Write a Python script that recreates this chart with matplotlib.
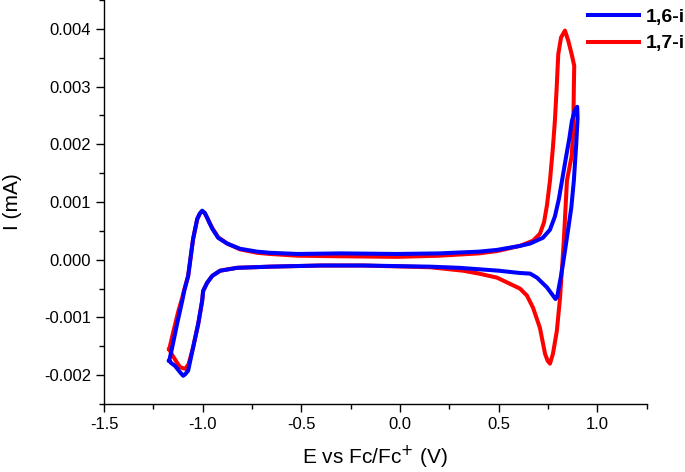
import matplotlib
matplotlib.use('Agg')
import matplotlib.pyplot as plt
from matplotlib.ticker import MultipleLocator, FormatStrFormatter

plt.rcParams['font.family'] = ['Liberation Sans', 'DejaVu Sans']
plt.rcParams['axes.unicode_minus'] = False

# 1,6-i loop (E in V, I in mA), starting at the left vertex
E_16 = [-1.170, -1.155, -1.130, -1.104, -1.094, -1.074, -1.049, -1.028, -1.015, -1.003,
        -0.990, -0.978, -0.965, -0.952, -0.922, -0.876, -0.811, -0.724, -0.659, -0.520,
        -0.300, -0.015, 0.200, 0.400, 0.491, 0.608, 0.659, 0.724, 0.760, 0.785,
        0.805, 0.821, 0.840, 0.858, 0.871, 0.885, 0.898,
        0.900, 0.893, 0.881, 0.868, 0.851, 0.838, 0.826, 0.815, 0.805, 0.797,
        0.788, 0.775, 0.745, 0.694, 0.659, 0.608, 0.500, 0.300, 0.152, -0.187,
        -0.400, -0.659, -0.826, -0.912, -0.952, -0.978, -0.998, -1.003, -1.023, -1.049,
        -1.074, -1.088, -1.099, -1.115, -1.140, -1.160, -1.170]
I_16 = [-0.00175, -0.00152, -0.00111, -0.00071, -0.00054, -0.00028, 0.00036, 0.00071, 0.00080, 0.00085,
        0.00081, 0.00073, 0.00063, 0.00054, 0.00038, 0.00028, 0.00019, 0.00014, 0.00012, 0.00010,
        0.00011, 0.00010, 0.00011, 0.00014, 0.00017, 0.00024, 0.00028, 0.00038, 0.00052, 0.00075,
        0.00105, 0.00137, 0.00175, 0.00210, 0.00240, 0.00258, 0.00265,
        0.00245, 0.00200, 0.00137, 0.00090, 0.00050, 0.00020, -0.00007, -0.00030, -0.00048, -0.00064,
        -0.00068, -0.00062, -0.00048, -0.00031, -0.00024, -0.00023, -0.00019, -0.00014, -0.00012, -0.00010,
        -0.00010, -0.00012, -0.00014, -0.00019, -0.00028, -0.00040, -0.00054, -0.00071, -0.00111, -0.00152,
        -0.00192, -0.00198, -0.00201, -0.00195, -0.00184, -0.00179, -0.00175]

# 1,7-i loop
E_17 = [-1.170, -1.148, -1.123, -1.104, -1.094, -1.074, -1.049, -1.028, -1.015, -1.003,
        -0.990, -0.978, -0.965, -0.952, -0.922, -0.876, -0.811, -0.724, -0.659, -0.520,
        -0.300, -0.015, 0.200, 0.400, 0.491, 0.608, 0.674, 0.709, 0.730, 0.745,
        0.760, 0.775, 0.785, 0.794, 0.802, 0.816, 0.836, 0.853, 0.870, 0.883,
        0.881, 0.878, 0.870, 0.846, 0.831, 0.822, 0.811, 0.795, 0.775, 0.760,
        0.748, 0.735, 0.709, 0.674, 0.643, 0.608, 0.491, 0.400, 0.319, 0.152,
        -0.187, -0.400, -0.659, -0.826, -0.912, -0.952, -0.978, -0.998, -1.003, -1.023,
        -1.049, -1.072, -1.089, -1.115, -1.131, -1.155, -1.170]
I_17 = [-0.00155, -0.00123, -0.00088, -0.00066, -0.00052, -0.00028, 0.00036, 0.00070, 0.00080, 0.00084,
        0.00081, 0.00073, 0.00064, 0.00055, 0.00039, 0.00028, 0.00018, 0.00012, 0.00010, 0.00007,
        0.00006, 0.00005, 0.00007, 0.00011, 0.00015, 0.00024, 0.00033, 0.00045, 0.00065, 0.00095,
        0.00137, 0.00195, 0.00241, 0.00298, 0.00356, 0.00385, 0.00397, 0.00379, 0.00356, 0.00336,
        0.00298, 0.00223, 0.00180, 0.00137, 0.00038, -0.00010, -0.00066, -0.00123, -0.00163, -0.00180,
        -0.00175, -0.00163, -0.00118, -0.00083, -0.00062, -0.00050, -0.00031, -0.00024, -0.00019, -0.00013,
        -0.00010, -0.00010, -0.00012, -0.00014, -0.00019, -0.00028, -0.00040, -0.00054, -0.00071, -0.00111,
        -0.00152, -0.00181, -0.00189, -0.00186, -0.00178, -0.00165, -0.00155]

fig = plt.figure(figsize=(6.85, 4.72), dpi=100)
ax = fig.add_axes([0.152, 0.144, 0.792, 0.856])

l17, = ax.plot(E_17, I_17, color='#ff0000', lw=2.9, label='1,7-i', solid_joinstyle='round')
l16, = ax.plot(E_16, I_16, color='#0000ff', lw=2.9, label='1,6-i', solid_joinstyle='round')

ax.set_xlim(-1.5, 1.25)
ax.set_ylim(-0.0025, 0.0045)
ax.xaxis.set_major_locator(MultipleLocator(0.5))
ax.xaxis.set_minor_locator(MultipleLocator(0.25))
ax.yaxis.set_major_locator(MultipleLocator(0.001))
ax.yaxis.set_minor_locator(MultipleLocator(0.0005))
ax.xaxis.set_major_formatter(FormatStrFormatter('%.1f'))
ax.yaxis.set_major_formatter(FormatStrFormatter('%.3f'))
ax.tick_params(which='major', direction='out', length=6, width=1, labelsize=12, colors='black')
ax.tick_params(which='minor', direction='out', length=3.5, width=1)
ax.spines['top'].set_visible(False)
ax.spines['right'].set_visible(False)
for s in ['left', 'bottom']:
    ax.spines[s].set_linewidth(1)

ax.set_xlabel('E vs Fc/Fc$^{+}$ (V)', fontsize=15, labelpad=8)
ax.set_ylabel('I (mA)', fontsize=15, labelpad=16)

leg = fig.legend([l16, l17], ['1,6-i', '1,7-i'], loc='upper left',
                 bbox_to_anchor=(588 / 685, 0.982), frameon=False,
                 prop={'weight': 'bold', 'size': 14}, handlelength=2.6,
                 handletextpad=0.35, labelspacing=0.45, borderpad=0, borderaxespad=0)

fig.savefig('out.png', dpi=100)
